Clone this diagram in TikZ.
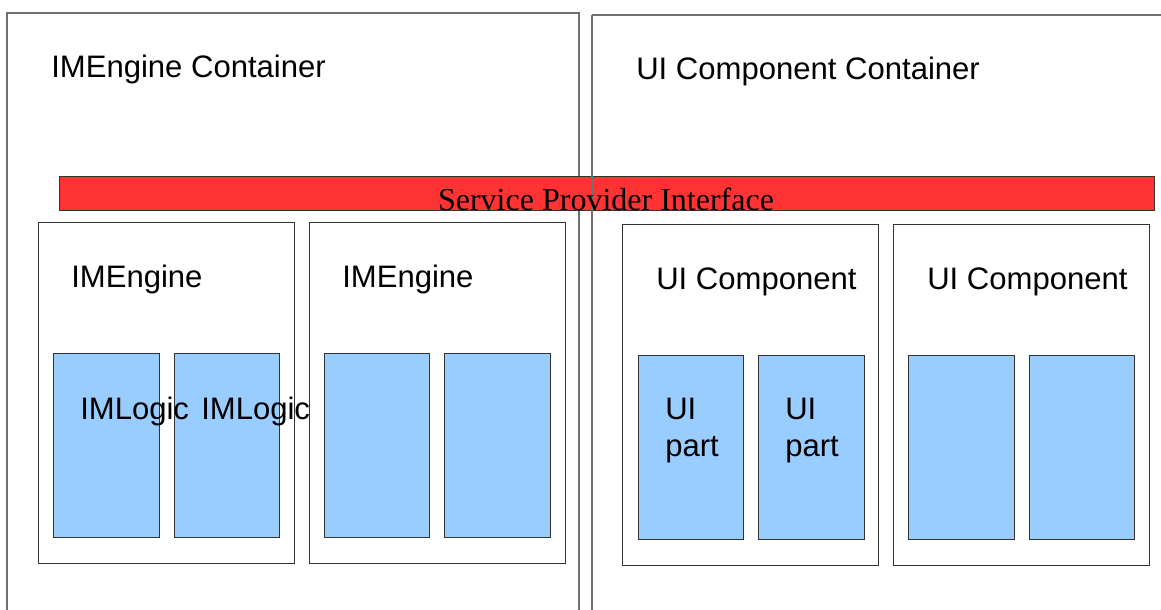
\documentclass[tikz,border=0pt]{standalone}
\usepackage{fontspec}
\setmainfont{Liberation Sans}
\newfontfamily\serifspi{Liberation Serif}
\definecolor{spired}{HTML}{FF3333}
\definecolor{partblue}{HTML}{99CCFF}
\definecolor{framegray}{HTML}{707070}
\definecolor{boxgray}{HTML}{333333}
\tikzset{
  container/.style={draw=framegray, line width=0.9pt, fill=white},
  compbox/.style={draw=boxgray, line width=0.75pt, fill=white},
  partbox/.style={draw=boxgray, line width=0.75pt, fill=partblue},
  spibar/.style={draw=boxgray, line width=0.75pt, fill=spired},
  lbl/.style={inner sep=0pt, anchor=base west, font=\fontsize{23.3}{28}\selectfont},
  spilbl/.style={inner sep=0pt, anchor=base, font=\serifspi\fontsize{24}{28}\selectfont}
}
\begin{document}
\begin{tikzpicture}[x=0.75pt, y=-0.75pt]
\useasboundingbox (0,0) rectangle (1161,610);
\fill[white] (0,0) rectangle (1161,610);
\clip (0,0) rectangle (1161,610);
% left container (behind the SPI bar)
\path[container] (7,13) rectangle (579,640);
% SPI bar
\path[spibar] (59,176) rectangle (1154,210);
% right container (its border shows over the bar)
\path[draw=framegray, line width=0.9pt] (592,15) -- (1190,15);
\path[draw=framegray, line width=0.9pt] (592,15) -- (592,640);
% titles
\node[lbl] (imecont) at (51,78) {IMEngine Container};
\node[lbl] (uicont) at (636,80) {UI Component Container};
% IMEngine boxes
\path[compbox] (38,222) rectangle (294,563);
\path[compbox] (309,222) rectangle (565,563);
\node[lbl] (ime1) at (71,287) {IMEngine};
\node[lbl] (ime2) at (342,287) {IMEngine};
\path[partbox] (53,353) rectangle (159,537);
\path[partbox] (174,353) rectangle (279,537);
\path[partbox] (324,353) rectangle (429,537);
\path[partbox] (444,353) rectangle (550,537);
\node[lbl] (logic1) at (80,419) {IMLogic};
\node[lbl] (logic2) at (201,419) {IMLogic};
% UI Component boxes
\path[compbox] (622,224) rectangle (878,565);
\path[compbox] (893,224) rectangle (1149,565);
\node[lbl] (uic1) at (656,289) {UI Component};
\node[lbl] (uic2) at (927,289) {UI Component};
\path[partbox] (638,355) rectangle (743,539);
\path[partbox] (758,355) rectangle (864,539);
\path[partbox] (908,355) rectangle (1014,539);
\path[partbox] (1029,355) rectangle (1134,539);
\node[lbl] (uip1a) at (665,419) {UI};
\node[lbl] (uip1b) at (665,456) {part};
\node[lbl] (uip2a) at (785,419) {UI};
\node[lbl] (uip2b) at (785,456) {part};
% SPI label on top
\node[spilbl] (spi) at (606,210) {Service Provider Interface};
\end{tikzpicture}
\end{document}
